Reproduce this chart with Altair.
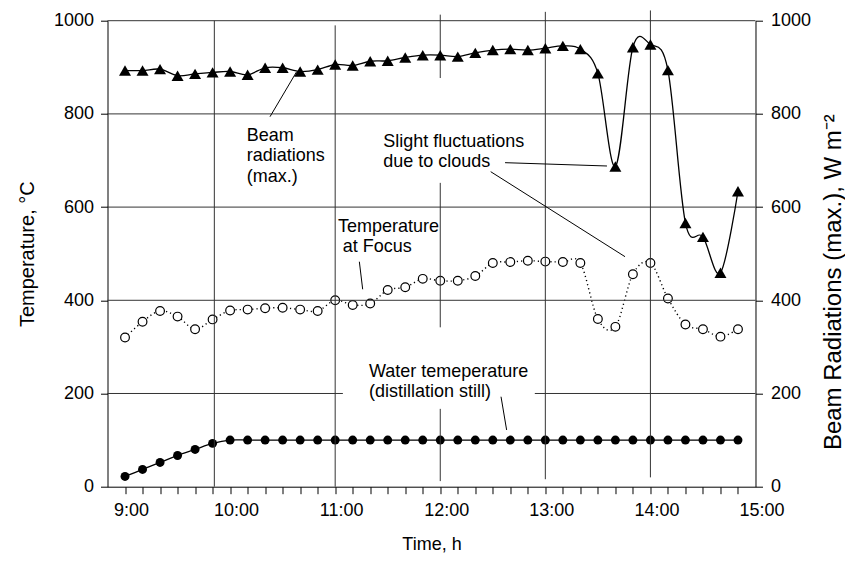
import altair as alt
import pandas as pd

# ---- data ----
# time of day in minutes after midnight (9:00 ... 14:50, every 10 min)
times = [540, 550, 560, 570, 580, 590, 600, 610, 620, 630, 640, 650,
         660, 670, 680, 690, 700, 710, 720, 730, 740, 750, 760, 770,
         780, 790, 800, 810, 820, 830, 840, 850, 860, 870, 880, 890]

beam = [893, 893, 896, 882, 886, 889, 891, 884, 899, 899, 891, 895,
        906, 904, 913, 914, 921, 926, 926, 923, 931, 937, 939, 937,
        941, 946, 939, 887, 687, 943, 949, 894, 566, 536, 459, 634]

focus = [320, 354, 377, 365, 338, 359, 378, 380, 383, 384, 380, 377,
         400, 390, 393, 422, 428, 446, 442, 442, 452, 480, 482, 485,
         483, 482, 480, 360, 343, 456, 480, 404, 348, 338, 322, 338]

water = [22, 37, 52, 67, 80, 93, 100, 100, 100, 100, 100, 100,
         100, 100, 100, 100, 100, 100, 100, 100, 100, 100, 100, 100,
         100, 100, 100, 100, 100, 100, 100, 100, 100, 100, 100, 100]

x_ticks = [540 + 10 * i for i in range(37)]
y_ticks = [0, 200, 400, 600, 800, 1000]

# drawn guide lines (segments in data units)
grid_t = [591, 660, 720, 720, 720, 780, 840, 530, 530, 530, 530, 530, 774]
grid_t2 = [591, 660, 720, 720, 720, 780, 840, 900, 900, 900, 900, 664.4, 900]
grid_v = [0, 0, 877, 342, 12, 16, 20, 1000, 800, 600, 400, 200, 200]
grid_v2 = [1000, 990, 1013, 652, 167, 1019, 1022, 1000, 800, 600, 400, 200, 200]

# annotation leader lines
lead_t = [622.8, 757.0, 748.8, 673.8, 754.7]
lead_t2 = [638.0, 815.2, 825.5, 675.7, 757.9]
lead_v = [794, 695.3, 676, 482.8, 193.1]
lead_v2 = [890.6, 688.2, 493.6, 423.6, 121.7]

# annotation texts (one entry per line of text)
note_text = ["Beam", "radiations", "(max.)",
             "Slight fluctuations", "due to clouds",
             "Temperature", "at Focus",
             "Water temeperature", "(distillation still)"]
note_t = [609.5, 609.5, 609.5,
          687.5, 687.5,
          661.6, 664.3,
          679.3, 679.3]
note_v = [742.5, 698.5, 654.5,
          729.6, 686.7,
          546.6, 503.6,
          236.0, 192.5]

FONT = "Liberation Sans"

df_beam = pd.DataFrame({"t": times, "v": beam})
df_focus = pd.DataFrame({"t": times, "v": focus})
df_water = pd.DataFrame({"t": times, "v": water})
df_grid = pd.DataFrame({"t": grid_t, "t2": grid_t2, "v": grid_v, "v2": grid_v2})
df_lead = pd.DataFrame({"t": lead_t, "t2": lead_t2, "v": lead_v, "v2": lead_v2})
df_note = pd.DataFrame({"t": note_t, "v": note_v, "txt": note_text})

X = alt.X(
    "t:Q",
    title="Time, h",
    scale=alt.Scale(domain=[530, 900], nice=False, zero=False),
    axis=alt.Axis(
        values=x_ticks,
        labelExpr="datum.value % 60 === 0 ? floor(datum.value / 60) + ':00' : ''",
        tickSize=7,
        labelPadding=8,
        labelOffset=6,
        labelOverlap=False,
        labelFlush=False,
        grid=False,
        tickOpacity={"condition": {"test": "datum.value >= 900", "value": 0}, "value": 1},
        titleY=58,
        titleBaseline="middle",
        titleFontSize=18,
    ),
)

YL = alt.Y(
    "v:Q",
    title="Temperature, °C",
    scale=alt.Scale(domain=[0, 1000], nice=False, zero=True),
    axis=alt.Axis(
        orient="left",
        values=y_ticks,
        format="d",
        tickSize=7,
        labelPadding=7,
        grid=False,
        labelFlush=False,
        titleX=-80.5,
        titleY=233,
        titleAngle=270,
        titleAlign="center",
        titleBaseline="middle",
        titleFontSize=20,
    ),
)

YR = alt.Y(
    "v:Q",
    title="Beam Radiations (max.), W m⁻²",
    scale=alt.Scale(domain=[0, 1000], nice=False, zero=True),
    axis=alt.Axis(
        orient="right",
        values=y_ticks,
        format="d",
        tickSize=7,
        labelPadding=8,
        grid=False,
        labelFlush=False,
        titleX=78,
        titleY=261,
        titleAngle=270,
        titleAlign="center",
        titleBaseline="middle",
        titleFontSize=24,
    ),
)

focus_line = alt.Chart(df_focus).mark_line(
    color="black", strokeWidth=1.4, strokeDash=[1.2, 3], interpolate="cardinal"
).encode(x=X, y=YL)
water_line = alt.Chart(df_water).mark_line(
    color="black", strokeWidth=1.3, interpolate="cardinal"
).encode(x=X, y=YL)
focus_pts = alt.Chart(df_focus).mark_point(
    shape="circle", size=76, filled=True, fill="white", stroke="black",
    strokeWidth=1.2, opacity=1
).encode(x=X, y=YL)
water_pts = alt.Chart(df_water).mark_point(
    shape="circle", size=80, filled=True, color="black", opacity=1
).encode(x=X, y=YL)
grid = alt.Chart(df_grid).mark_rule(color="#333333", strokeWidth=1).encode(
    x=X, x2="t2:Q", y=YL, y2="v2:Q"
)
leads = alt.Chart(df_lead).mark_rule(color="black", strokeWidth=1).encode(
    x=X, x2="t2:Q", y=YL, y2="v2:Q"
)
notes = alt.Chart(df_note).mark_text(
    align="left", baseline="alphabetic",
    font=FONT, fontSize=18, color="black"
).encode(x=X, y=YL, text="txt:N")

left = alt.layer(focus_line, water_line, focus_pts, water_pts, grid, leads, notes)

beam_line = alt.Chart(df_beam).mark_line(
    color="black", strokeWidth=1.3, interpolate="cardinal"
).encode(x=X, y=YR)
beam_pts = alt.Chart(df_beam).mark_point(
    shape="triangle-up", size=144, filled=True, color="black", opacity=1
).encode(x=X, y=YR)
right = alt.layer(beam_line, beam_pts)

chart = (
    alt.layer(left, right)
    .resolve_scale(y="independent")
    .properties(
        width=648,
        height=466,
        autosize=alt.AutoSizeParams(type="none"),
        padding={"left": 99.5, "top": 12.7, "right": 89, "bottom": 70},
    )
    .configure_view(stroke=None)
    .configure_axis(
        domainColor="black",
        domainWidth=1,
        tickColor="black",
        tickWidth=1,
        labelColor="black",
        labelFont=FONT,
        labelFontSize=18,
        titleColor="black",
        titleFont=FONT,
        titleFontWeight="normal",
    )
)

chart.save("out.html", embed_options={"renderer": "svg", "actions": False})
